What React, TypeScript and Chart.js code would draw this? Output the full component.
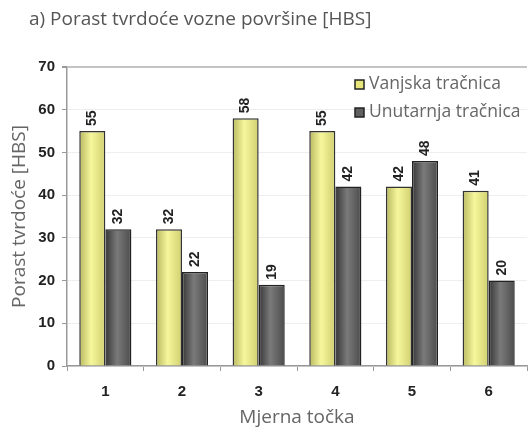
import React, { useEffect, useRef } from 'react';
import { Chart, registerables } from 'chart.js';

Chart.register(...registerables);

const categories = ['1', '2', '3', '4', '5', '6'];
const outerRail = [55, 32, 58, 55, 42, 41];
const innerRail = [32, 22, 19, 42, 48, 20];
const seriesLabels = ['Vanjska tračnica', 'Unutarnja tračnica'];
const chartTitle = 'a) Porast tvrdoće vozne površine [HBS]';
const yTitle = 'Porast tvrdoće [HBS]';
const xTitle = 'Mjerna točka';
const yMin = 0;
const yMax = 70;
const yStep = 10;

const CAT_PCT = 0.68;
const gradientStops = [
  ['#b8b860', '#f6f69c', '#d0d070'],
  ['#363636', '#7a7a7a', '#4c4c4c'],
];
const legendFill = ['#e6e67a', '#606060'];

function barGradient(c: any, di: number) {
  const stops = gradientStops[di];
  const chart = c.chart;
  const x = chart.scales && chart.scales.x;
  if (!x || c.type !== 'data' || !chart.ctx) return stops[1];
  const cw = x.getPixelForValue(1) - x.getPixelForValue(0);
  const bw = (cw * CAT_PCT) / 2;
  const center = x.getPixelForValue(c.dataIndex);
  const left = center - (cw * CAT_PCT) / 2 + di * bw;
  if (!isFinite(left) || !isFinite(bw) || bw <= 0) return stops[1];
  const g = chart.ctx.createLinearGradient(left, 0, left + bw, 0);
  g.addColorStop(0, stops[0]);
  g.addColorStop(0.45, stops[1]);
  g.addColorStop(1, stops[2]);
  return g;
}

const titleShift = {
  id: 'titleShift',
  afterLayout(chart: any) {
    const t = chart.titleBlock;
    if (t) {
      t.left += 25;
      t.right += 25;
    }
  },
};

const valueLabels = {
  id: 'valueLabels',
  afterDatasetsDraw(chart: any) {
    const ctx = chart.ctx;
    ctx.save();
    ctx.font = 'bold 14px "Liberation Sans", Arial, sans-serif';
    ctx.fillStyle = '#222';
    ctx.textAlign = 'left';
    ctx.textBaseline = 'middle';
    chart.data.datasets.forEach((ds: any, di: number) => {
      const meta = chart.getDatasetMeta(di);
      meta.data.forEach((bar: any, i: number) => {
        ctx.save();
        ctx.translate(bar.x, bar.y - 5);
        ctx.rotate(-Math.PI / 2);
        ctx.fillText(String(ds.data[i]), 0, 0);
        ctx.restore();
      });
    });
    ctx.restore();
  },
};

const innerLegend = {
  id: 'innerLegend',
  afterDraw(chart: any) {
    const ctx = chart.ctx;
    ctx.save();
    ctx.font = '17.5px "Open Sans", sans-serif';
    ctx.textAlign = 'left';
    ctx.textBaseline = 'middle';
    chart.data.datasets.forEach((ds: any, di: number) => {
      const cy = 84 + di * 28;
      ctx.fillStyle = legendFill[di];
      ctx.fillRect(355, cy - 4, 9, 9);
      ctx.strokeStyle = '#222';
      ctx.lineWidth = 1.5;
      ctx.strokeRect(355, cy - 4, 9, 9);
      ctx.fillStyle = '#666';
      ctx.fillText(ds.label, 369, cy);
    });
    ctx.restore();
  },
};

export default function App() {
  const ref = useRef<HTMLCanvasElement>(null);
  useEffect(() => {
    if (!ref.current) return;
    const chart = new Chart(ref.current, {
      type: 'bar',
      data: {
        labels: categories,
        datasets: [
          {
            label: seriesLabels[0],
            data: outerRail,
            backgroundColor: (c: any) => barGradient(c, 0),
            borderColor: '#333',
            borderWidth: 1.5,
            categoryPercentage: CAT_PCT,
            barPercentage: 1,
          },
          {
            label: seriesLabels[1],
            data: innerRail,
            backgroundColor: (c: any) => barGradient(c, 1),
            borderColor: '#222',
            borderWidth: 1.5,
            categoryPercentage: CAT_PCT,
            barPercentage: 1,
          },
        ],
      },
      options: {
        animation: false,
        responsive: false,
        layout: { padding: { left: 4, right: 1, top: 0, bottom: 0 } },
        plugins: {
          legend: { display: false },
          tooltip: { enabled: false },
          title: {
            display: true,
            text: chartTitle,
            align: 'start',
            color: '#555',
            font: { family: '"Open Sans", sans-serif', size: 19, weight: 'normal' },
            padding: { top: 8.6, bottom: 35.6 },
          },
        },
        scales: {
          x: {
            afterFit: (s: any) => {
              s.height = 71;
            },
            grid: {
              drawOnChartArea: false,
              drawTicks: true,
              tickLength: 5,
              tickColor: '#999',
            },
            border: { color: '#999', width: 1.5 },
            ticks: {
              color: '#222',
              padding: 11.5,
              font: { family: '"Liberation Sans", Arial, sans-serif', size: 15, weight: 'bold' },
            },
            title: {
              display: true,
              text: xTitle,
              color: '#666',
              font: { family: '"Open Sans", sans-serif', size: 19 },
              padding: { top: 0, bottom: 7.6 },
            },
          },
          y: {
            min: yMin,
            max: yMax,
            afterFit: (s: any) => {
              s.width = 63;
            },
            grid: {
              color: (c: any) => (c.tick && c.tick.value === yMax ? '#c4c4c4' : '#eeeeee'),
              lineWidth: (c: any) => (c.tick && c.tick.value === yMax ? 2 : 1),
              tickColor: '#999',
              tickLength: 5,
            },
            border: { color: '#999', width: 1.5 },
            ticks: {
              stepSize: yStep,
              color: '#222',
              padding: 7,
              font: { family: '"Liberation Sans", Arial, sans-serif', size: 15, weight: 'bold' },
            },
            title: {
              display: true,
              text: yTitle,
              color: '#666',
              font: { family: '"Open Sans", sans-serif', size: 19 },
              padding: { top: 4.6, bottom: 0 },
            },
          },
        },
      },
      plugins: [titleShift, valueLabels, innerLegend],
    });
    return () => chart.destroy();
  }, []);
  return (
    <div style={{ position: 'fixed', left: 0, top: 0, width: 528, height: 437, background: '#fff' }}>
      <canvas ref={ref} width={528} height={437} style={{ display: 'block', width: 528, height: 437 }} />
    </div>
  );
}
